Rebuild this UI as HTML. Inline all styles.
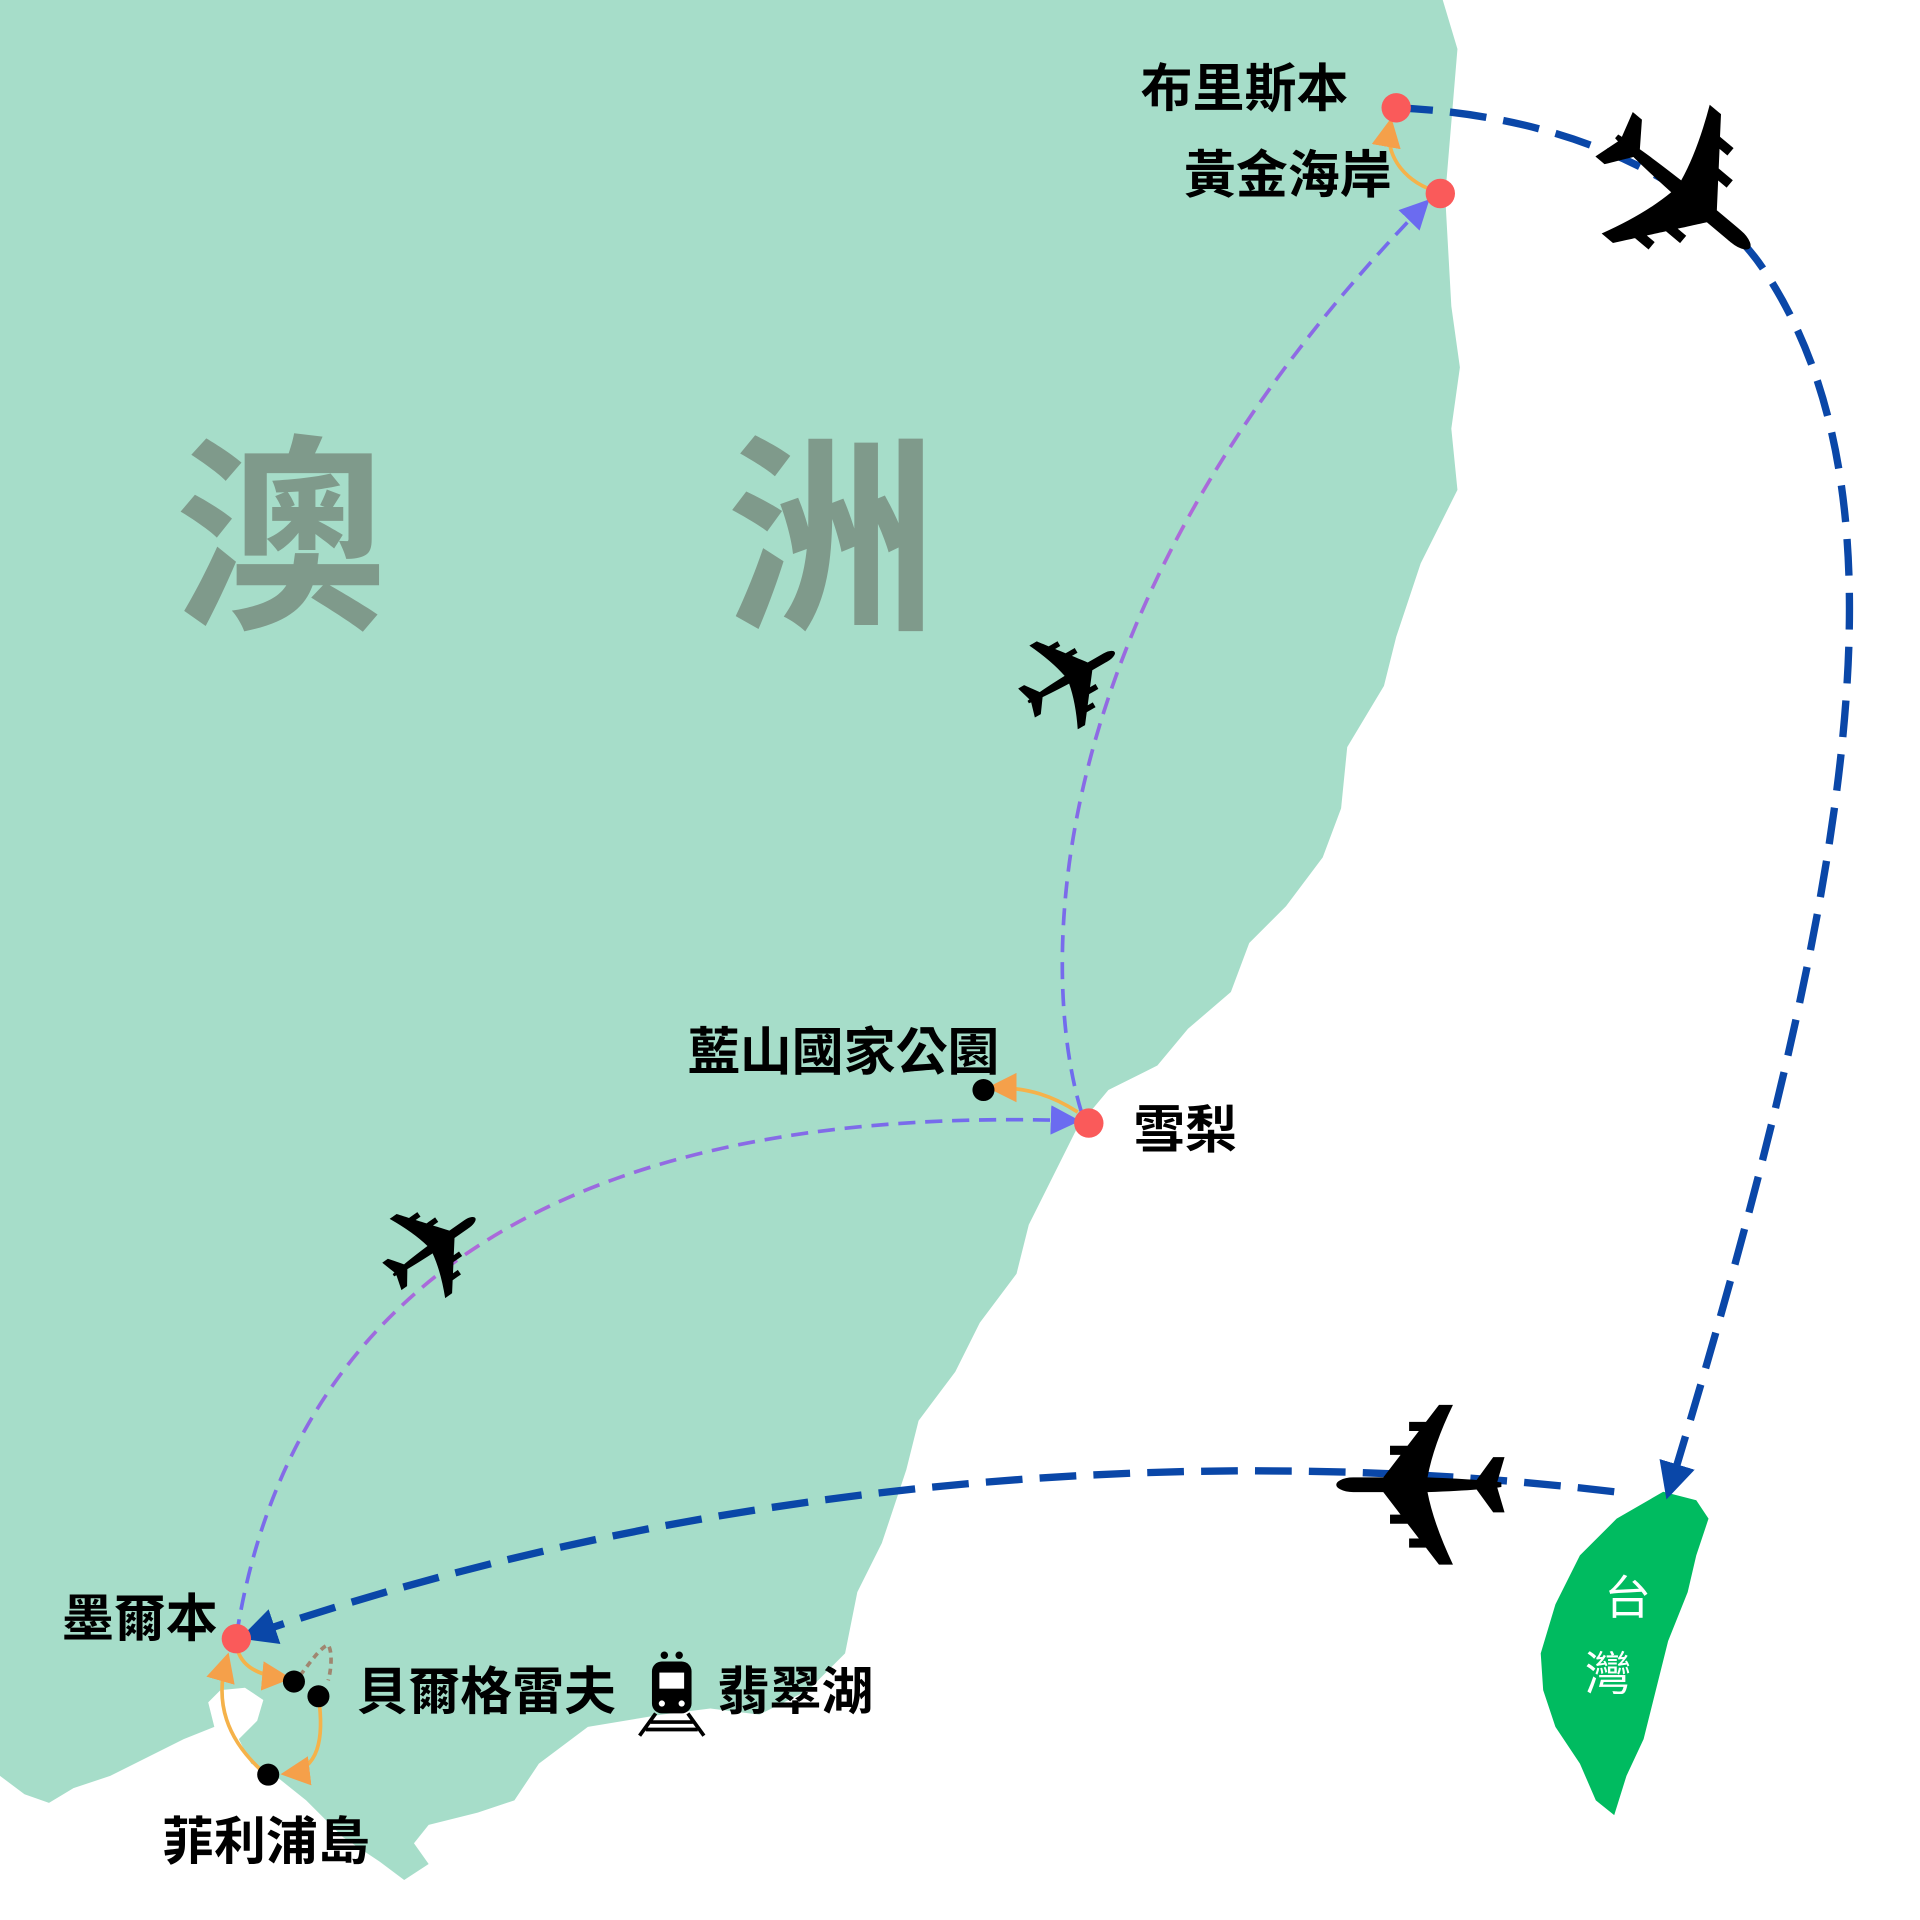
<!DOCTYPE html>
<html><head><meta charset="utf-8"><style>
html,body{margin:0;padding:0;background:#fff;}
svg{display:block}
text{font-family:"Liberation Sans","Noto Sans CJK TC",sans-serif;font-weight:bold;}
</style></head><body>
<svg width="1920" height="1920" viewBox="0 0 1552 1552" xmlns="http://www.w3.org/2000/svg">
<defs>
<marker id="ab" markerWidth="5" markerHeight="5" refX="2.5" refY="2.5" orient="auto" markerUnits="strokeWidth"><path d="M0,0 L5,2.5 L0,5 z" fill="#0a47a8"/></marker>
<marker id="ap" markerWidth="8" markerHeight="8" refX="6" refY="4" orient="auto" markerUnits="strokeWidth"><path d="M0,0 L8,4 L0,8 z" fill="#6b6bf0"/></marker>
<marker id="ao" markerWidth="8" markerHeight="8" refX="6" refY="4" orient="auto" markerUnits="strokeWidth"><path d="M0,0 L8,4 L0,8 z" fill="#f5a04a"/></marker>
<linearGradient id="g1" x1="0" y1="1" x2="1" y2="0"><stop offset="0" stop-color="#6b6bf0"/><stop offset="0.5" stop-color="#b06ad8"/><stop offset="1" stop-color="#6b6bf0"/></linearGradient>
</defs>
<g transform="scale(0.99)">
<path fill="#a6ddc9" d="M0,0 L1178,0 L1190,40 L1185,100 L1180,160 L1185,250 L1192,300 L1185,350 L1190,400 L1160,460 L1140,520 L1130,560 L1100,610 L1095,660 L1080,700 L1050,740 L1020,770 L1005,810 L970,840 L945,870 L905,890 L880,920 L860,960 L840,1000 L830,1040 L800,1080 L780,1120 L750,1160 L740,1200 L720,1260 L700,1300 L690,1350 L660,1380 L620,1400 L580,1395 L540,1400 L480,1410 L440,1440 L420,1470 L390,1480 L350,1490 L338,1505 L350,1522 L330,1535 L310,1520 L280,1500 L250,1470 L225,1450 L205,1440 L195,1420 L210,1405 L215,1388 L200,1378 L180,1380 L170,1390 L175,1410 L150,1420 L120,1435 L90,1450 L60,1460 L40,1472 L20,1465 L0,1450 Z"/>
<text x="143" y="500" font-size="172" fill="#7f9a8b">澳</text>
<text x="593" y="500" font-size="172" fill="#7f9a8b">洲</text>
<path fill="#00bb60" d="M1358,1218 L1385,1225 L1395,1240 L1385,1270 L1378,1300 L1362,1340 L1352,1380 L1342,1420 L1328,1450 L1318,1482 L1303,1470 L1290,1440 L1270,1410 L1260,1380 L1258,1350 L1270,1310 L1290,1270 L1320,1240 Z"/>
<text x="1310" y="1318" font-size="38" fill="#fff" style="font-weight:normal">台</text>
<text x="1294" y="1380" font-size="38" fill="#fff" style="font-weight:normal">灣</text>
<g fill="none" stroke="#0a47a8" stroke-width="6" stroke-dasharray="30,14">
<path d="M1140,88 C1300,95 1400,160 1440,220 C1560,400 1520,700 1365,1210" marker-end="url(#ab)"/>
<path d="M1318,1218 C1000,1180 600,1200 210,1333" marker-end="url(#ab)"/>
</g>
<g fill="none" stroke="url(#g1)" stroke-width="3" stroke-dasharray="14,8">
<path d="M193,1336 C230,1100 400,900 876,915" marker-end="url(#ap)"/>
<path d="M883,908 C850,800 840,500 1163,167" marker-end="url(#ap)"/>
</g>
<g fill="none" stroke="#f5b24a" stroke-width="3">
<path d="M1175,157 C1150,150 1130,130 1135,102" marker-end="url(#ao)"/>
<path d="M880,908 C860,895 840,888 812,888" marker-end="url(#ao)"/>
<path d="M193,1342 C195,1360 210,1368 232,1370" marker-end="url(#ao)"/>
<path d="M260,1385 C265,1420 260,1445 235,1448" marker-end="url(#ao)"/>
<path d="M215,1447 C185,1420 175,1390 185,1355" marker-end="url(#ao)"/>
<path d="M245,1368 C255,1355 262,1345 268,1343 C272,1350 270,1365 268,1372" stroke="#a08670" stroke-dasharray="5,4"/>
</g>
<circle cx="1140" cy="88" r="12" fill="#fa5a5a"/>
<circle cx="1176" cy="158" r="12" fill="#fa5a5a"/>
<circle cx="889" cy="917" r="12" fill="#fa5a5a"/>
<circle cx="193" cy="1338" r="12" fill="#fa5a5a"/>
<circle cx="803" cy="890" r="9" fill="#000"/>
<circle cx="240" cy="1373" r="9" fill="#000"/>
<circle cx="260" cy="1385" r="9" fill="#000"/>
<circle cx="219" cy="1449" r="9" fill="#000"/>
<g fill="#000">
<text transform="translate(1368,162) rotate(40)" font-size="200" text-anchor="middle" dy="65" style="font-family:'DejaVu Sans',sans-serif;font-weight:normal">✈</text>
<text transform="translate(875,555) rotate(-30)" font-size="115" text-anchor="middle" dy="40" style="font-family:'DejaVu Sans',sans-serif;font-weight:normal">✈</text>
<text transform="translate(355,1020) rotate(-35)" font-size="115" text-anchor="middle" dy="40" style="font-family:'DejaVu Sans',sans-serif;font-weight:normal">✈</text>
<text transform="translate(1160,1205) rotate(180)" font-size="190" text-anchor="middle" dy="62" style="font-family:'DejaVu Sans',sans-serif;font-weight:normal">✈</text>
</g>
</g>
<g font-size="42" fill="#000">
<text x="922" y="86">布里斯本</text>
<text x="957" y="156">黃金海岸</text>
<text x="556" y="865">藍山國家公園</text>
<text x="916" y="928">雪梨</text>
<text x="50" y="1323">墨爾本</text>
<text x="288" y="1382">貝爾格雷夫</text>
<text x="580" y="1382">翡翠湖</text>
<text x="131" y="1503">菲利浦島</text>
</g>
<g>
<rect x="527" y="1343" width="32" height="42" rx="8" fill="#000"/>
<rect x="533" y="1352" width="20" height="13" fill="#fff"/>
<circle cx="537" cy="1338" r="3" fill="#000"/><circle cx="549" cy="1338" r="3" fill="#000"/>
<circle cx="535" cy="1377" r="2.5" fill="#fff"/><circle cx="551" cy="1377" r="2.5" fill="#fff"/>
<path d="M530,1385 L517,1403 M556,1385 L569,1403 M526,1392 L560,1392 M522,1398 L564,1398" stroke="#000" stroke-width="3"/>
</g>
</svg>
</body></html>
